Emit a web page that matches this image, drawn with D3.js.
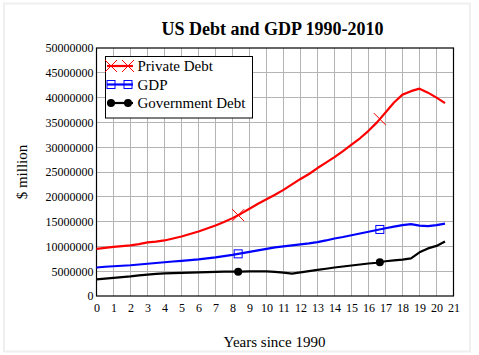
<!DOCTYPE html>
<html><head><meta charset="utf-8">
<script src="https://cdn.jsdelivr.net/npm/d3@7"></script>
<style>html,body{margin:0;padding:0;background:#fff;}svg{display:block;font-family:"Liberation Serif","Times New Roman",serif;}</style>
</head><body>
<script>
const years = [0,0.5,1,1.5,2,2.5,3,3.5,4,4.5,5,5.5,6,6.5,7,7.5,8,8.5,9,9.5,10,10.5,11,11.5,12,12.5,13,13.5,14,14.5,15,15.5,16,16.5,17,17.5,18,18.5,19,19.5,20,20.5];
const privateDebt = [9.5,9.7,9.9,10.05,10.2,10.45,10.8,10.95,11.2,11.6,12.0,12.5,13.0,13.6,14.2,14.9,15.7,16.6,17.6,18.6,19.5,20.4,21.4,22.5,23.6,24.6,25.8,26.9,28.0,29.2,30.5,31.8,33.3,35.0,37.0,39.0,40.6,41.3,41.8,41.0,40.0,38.9];
const gdp = [5.75,5.9,6.0,6.1,6.2,6.35,6.5,6.65,6.8,6.95,7.1,7.25,7.4,7.6,7.8,8.05,8.3,8.6,8.9,9.2,9.5,9.8,10.0,10.2,10.4,10.6,10.85,11.2,11.6,11.9,12.25,12.6,12.95,13.3,13.65,14.0,14.3,14.5,14.2,14.1,14.3,14.6];
const govDebt = [3.35,3.5,3.65,3.8,3.95,4.15,4.3,4.45,4.55,4.6,4.65,4.7,4.75,4.8,4.85,4.9,4.9,4.9,4.95,4.95,4.95,4.85,4.7,4.5,4.75,5.0,5.25,5.5,5.75,5.95,6.15,6.35,6.55,6.7,7.0,7.2,7.35,7.6,8.8,9.6,10.1,11.0];
const markerYears = [25/3, 50/3];
const seriesNames = ["Private Debt","GDP","Government Debt"];
const seriesColors = ["#ff0000","#0000ff","#000000"];
const seriesMarkers = ["cross","square","circle"];
const xTicks = d3.range(0,22);
const yTicks = d3.range(0,50000001,5000000);

const W=479,H=355;
const svg=d3.select("body").append("svg").attr("width",W).attr("height",H);
svg.append("rect").attr("x",4).attr("y",3.5).attr("width",466).attr("height",348).attr("fill","none").attr("stroke","#efefef").attr("stroke-width",2);

const x=d3.scaleLinear().domain([0,21]).range([96.5,453.5]);
const y=d3.scaleLinear().domain([0,50000000]).range([296,48]);

// grid
const g=svg.append("g");
g.selectAll(".vg").data(xTicks.slice(1,-1)).join("line").attr("x1",d=>x(d)).attr("x2",d=>x(d)).attr("y1",y(0)).attr("y2",y(50000000)).attr("stroke","#b4b4b4").attr("stroke-width",1).attr("shape-rendering","crispEdges");
g.selectAll(".hg").data(yTicks.slice(1,-1)).join("line").attr("y1",d=>y(d)).attr("y2",d=>y(d)).attr("x1",x(0)).attr("x2",x(21)).attr("stroke","#b4b4b4").attr("stroke-width",1).attr("shape-rendering","crispEdges");

// axes labels
const xAxis=d3.axisBottom(x).tickValues(xTicks).tickSize(0).tickPadding(7).tickFormat(d3.format("d"));
const gx=svg.append("g").attr("transform",`translate(0,${y(0)})`).call(xAxis);
gx.select(".domain").remove();
gx.selectAll("text").attr("font-size",12).attr("font-family","Liberation Serif").attr("fill","#000");
const yAxis=d3.axisLeft(y).tickValues(yTicks).tickSize(0).tickPadding(3).tickFormat(d3.format("d"));
const gy=svg.append("g").attr("transform",`translate(${x(0)},0)`).call(yAxis);
gy.select(".domain").remove();
gy.selectAll("text").attr("font-size",12).attr("font-family","Liberation Serif").attr("fill","#000");

// frame
svg.append("rect").attr("x",x(0)).attr("y",y(50000000)).attr("width",x(21)-x(0)).attr("height",y(0)-y(50000000)).attr("fill","none").attr("stroke","#000").attr("stroke-width",1.2);

// series
const allSeries=[privateDebt,gdp,govDebt];
const line=d3.line().x((d,i)=>x(years[i])).y(d=>y(d*1e6));
function marker(sel,type,color,cx,cy){
  if(type==="cross"){
    sel.append("path").attr("d",`M${cx-6},${cy-6}L${cx+6},${cy+6}M${cx-6},${cy+6}L${cx+6},${cy-6}`).attr("stroke",color).attr("stroke-width",1).attr("fill","none");
  } else if(type==="square"){
    sel.append("rect").attr("x",cx-4).attr("y",cy-4).attr("width",8).attr("height",8).attr("fill","none").attr("stroke",color).attr("stroke-width",1);
  } else {
    sel.append("circle").attr("cx",cx).attr("cy",cy).attr("r",4).attr("fill",color);
  }
}
allSeries.forEach((s,k)=>{
  svg.append("path").datum(s).attr("d",line).attr("fill","none").attr("stroke",seriesColors[k]).attr("stroke-width",2.2).attr("stroke-linejoin","round");
  const interp=d3.scaleLinear().domain(years).range(s);
  markerYears.forEach(m=>marker(svg,seriesMarkers[k],seriesColors[k],x(m),y(interp(m)*1e6)));
});

// legend
const lg=svg.append("g");
lg.append("rect").attr("x",105.5).attr("y",56.5).attr("width",147).attr("height",61.5).attr("fill","#fff").attr("stroke","#000").attr("stroke-width",1);
seriesNames.forEach((n,k)=>{
  const cy=66+k*18.5;
  lg.append("line").attr("x1",107).attr("x2",133).attr("y1",cy).attr("y2",cy).attr("stroke",seriesColors[k]).attr("stroke-width",2.2);
  marker(lg,seriesMarkers[k],seriesColors[k],111,cy);
  marker(lg,seriesMarkers[k],seriesColors[k],128,cy);
  lg.append("text").attr("x",137.5).attr("y",cy+5).attr("font-size",15).text(n);
});

// titles
svg.append("text").attr("x",272.5).attr("y",35).attr("text-anchor","middle").attr("font-size",18).attr("font-weight","bold").text("US Debt and GDP 1990-2010");
svg.append("text").attr("x",274.5).attr("y",347).attr("text-anchor","middle").attr("font-size",15).text("Years since 1990");
svg.append("text").attr("transform","translate(27,172) rotate(-90)").attr("text-anchor","middle").attr("font-size",15).text("$ million");
</script>
</body></html>
